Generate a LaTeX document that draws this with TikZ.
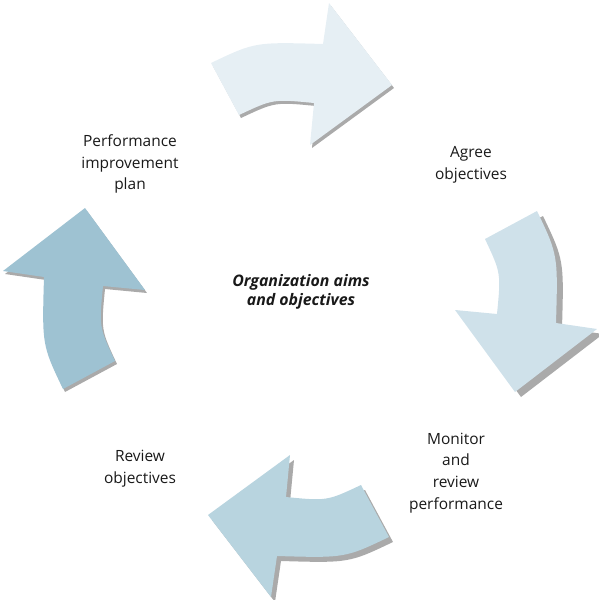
\documentclass[tikz,border=0pt]{standalone}
\usepackage{fontspec}
\setmainfont{Open Sans}
\definecolor{mydark}{RGB}{25,25,25}
\definecolor{myshadow}{RGB}{170,170,170}
\definecolor{arrowtop}{RGB}{230,239,244}
\definecolor{arrowright}{RGB}{207,225,234}
\definecolor{arrowbottom}{RGB}{184,212,223}
\definecolor{arrowleft}{RGB}{158,194,210}
\tikzset{
  steplabel/.style={align=center, inner sep=0pt, text=mydark,
    font=\fontsize{11}{15.5}\selectfont},
  hublabel/.style={align=center, inner sep=0pt, text=mydark,
    font=\fontsize{11.3}{13}\selectfont\bfseries\itshape}
}
% one bent arrow of the cycle, drawn pointing right at the top
\newcommand{\cyclearrow}[1]{%
  \fill[#1] (-89,-237) .. controls (-45,-258) .. (23,-256)
    -- (29,-297) -- (92,-215) -- (10,-155) -- (14,-197)
    .. controls (-27,-201) .. (-61,-185) -- cycle;}

\begin{document}
\begin{tikzpicture}[x=0.025cm, y=-0.025cm]
  \useasboundingbox (0,0) rectangle (599,600);
  % the four arrows with their grey drop shadows
  \foreach \ang/\col/\dx/\dy in {0/arrowtop/2/3, -90/arrowright/6/5,
      -180/arrowbottom/4/5, -270/arrowleft/2/3} {
    \begin{scope}[shift={(300+\dx,300+\dy)}, rotate=\ang]
      \cyclearrow{myshadow}
    \end{scope}
    \begin{scope}[shift={(300,300)}, rotate=\ang]
      \cyclearrow{\col}
    \end{scope}
  }
  % labels
  \node[hublabel] (hub) at (301,292) {Organization aims\\and objectives};
  \node[steplabel] (agree) at (471,165) {Agree\\objectives};
  \node[steplabel] (monitor) at (456,473) {Monitor\\and\\review\\performance};
  \node[steplabel] (review) at (140,469) {Review\\objectives};
  \node[steplabel] (plan) at (130,164) {Performance\\improvement\\plan};
\end{tikzpicture}
\end{document}
